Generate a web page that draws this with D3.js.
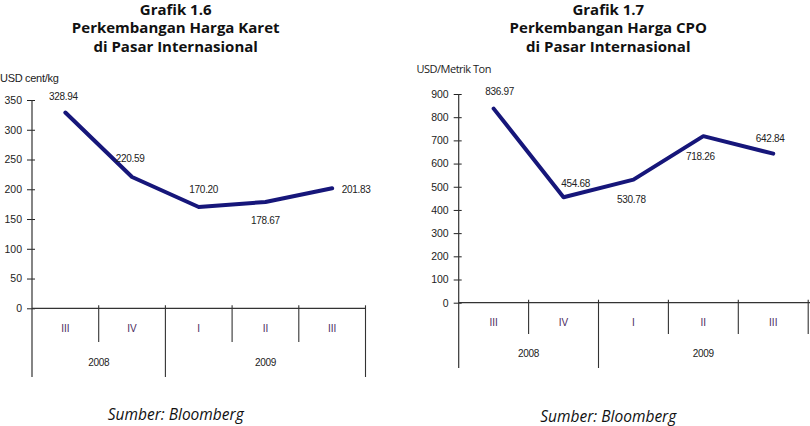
<!DOCTYPE html>
<html><head><meta charset="utf-8">
<script src="https://cdn.jsdelivr.net/npm/d3@7"></script>
<style>
html,body{margin:0;padding:0;background:#fff;}
svg{display:block;}
</style></head>
<body>
<svg id="c" width="810" height="426"></svg>
<script>
// ---- data ----
const quarters = ["III", "IV", "I", "II", "III"];
const years = [{label: "2008", from: 0, to: 2}, {label: "2009", from: 2, to: 5}];
const rubberValues = [328.94, 220.59, 170.20, 178.67, 201.83];
const cpoValues = [836.97, 454.68, 530.78, 718.26, 642.84];
const rubberTicks = [0, 50, 100, 150, 200, 250, 300, 350];
const cpoTicks = [0, 100, 200, 300, 400, 500, 600, 700, 800, 900];

// ---- layout ----
const panels = [
  {
    titles: ["Grafik 1.6", "Perkembangan Harga Karet", "di Pasar Internasional"],
    unit: "USD cent/kg", unitX: 0, unitY: 78, unitFont: "Liberation Sans", unitSpacing: -0.3,
    values: rubberValues, ticks: rubberTicks, yMax: 350,
    x0: 32, bw: 66.7, yBottom: 308.3, yTop: 100,
    axisEnd: 365.7, longDiv: [0, 2, 5],
    qY: 328, shortBottom: 342, longBottom: 377, yearY: 362,
    cx: 175.7, srcY: 414,
    offsets: [[-2, -16], [-2, -19], [5, -18], [0, 19], [24, 1]]
  },
  {
    titles: ["Grafik 1.7", "Perkembangan Harga CPO", "di Pasar Internasional"],
    unit: "USD/Metrik Ton", unitX: 416.5, unitY: 68, unitFont: "Open Sans", unitSpacing: -0.5,
    values: cpoValues, ticks: cpoTicks, yMax: 900,
    x0: 458.7, bw: 69.9, yBottom: 302.7, yTop: 94,
    axisEnd: 812, longDiv: [0, 2],
    qY: 322, shortBottom: 334, longBottom: 368, yearY: 353,
    cx: 608.3, srcY: 416,
    offsets: [[6, -17], [12, -14], [-2, 20], [-3, 20], [-3, -15]]
  }
];

const svg = d3.select("#c");
const lineColor = "#16167a";

panels.forEach(p => {
  const g = svg.append("g");
  const x = d3.scaleBand().domain(d3.range(quarters.length))
    .range([p.x0, p.x0 + p.bw * quarters.length]).padding(0);
  const y = d3.scaleLinear().domain([0, p.yMax]).range([p.yBottom, p.yTop]);

  // titles
  p.titles.forEach((t, i) => {
    g.append("text").attr("x", p.cx).attr("y", 8.5 + i * 18.7)
      .attr("text-anchor", "middle").attr("dominant-baseline", "central")
      .attr("font-family", "Open Sans, sans-serif").attr("font-weight", "bold")
      .attr("font-size", 15).attr("fill", "#111").text(t);
  });

  // unit
  g.append("text").attr("x", p.unitX).attr("y", p.unitY)
    .attr("dominant-baseline", "central")
    .attr("font-family", p.unitFont + ", sans-serif").attr("font-size", 11)
    .attr("letter-spacing", p.unitSpacing)
    .attr("fill", "#222").text(p.unit);

  // y axis
  const yAxis = d3.axisLeft(y).tickValues(p.ticks).tickSize(5).tickPadding(5)
    .tickFormat(d3.format("d"));
  const ya = g.append("g").attr("transform", `translate(${p.x0},0)`).call(yAxis);
  ya.select(".domain").remove();
  ya.selectAll(".tick line").attr("x1", 3).attr("x2", -5).attr("stroke", "#222");
  ya.selectAll(".tick text").attr("font-family", "Liberation Sans, Arial, sans-serif")
    .attr("font-size", 10.5).attr("fill", "#222");
  g.append("line").attr("x1", p.x0).attr("x2", p.x0)
    .attr("y1", y(p.yMax)).attr("y2", p.longBottom).attr("stroke", "#333").attr("stroke-width", 1.2);

  // x axis baseline
  g.append("line").attr("x1", p.x0).attr("x2", p.axisEnd)
    .attr("y1", y(0)).attr("y2", y(0)).attr("stroke", "#333").attr("stroke-width", 1.2);

  // dividers
  d3.range(1, quarters.length + 1).forEach(i => {
    const xx = p.x0 + p.bw * i;
    const isLong = p.longDiv.includes(i);
    if (xx > 809) return;
    g.append("line").attr("x1", xx).attr("x2", xx)
      .attr("y1", y(0) - 3).attr("y2", isLong ? p.longBottom : p.shortBottom)
      .attr("stroke", "#333").attr("stroke-width", 1.1);
  });

  // quarter labels
  quarters.forEach((q, i) => {
    g.append("text").attr("x", x(i) + x.bandwidth() / 2).attr("y", p.qY)
      .attr("text-anchor", "middle").attr("dominant-baseline", "central")
      .attr("font-family", "Liberation Sans, Arial, sans-serif").attr("font-size", 10)
      .attr("fill", "#4a2a5e").text(q);
  });

  // year labels
  years.forEach(yr => {
    const a = p.x0 + p.bw * yr.from, b = p.x0 + p.bw * yr.to;
    g.append("text").attr("x", (a + b) / 2).attr("y", p.yearY)
      .attr("text-anchor", "middle").attr("dominant-baseline", "central")
      .attr("font-family", "Liberation Sans, Arial, sans-serif").attr("font-size", 10)
      .attr("letter-spacing", -0.3)
      .attr("fill", "#222").text(yr.label);
  });

  // line
  const line = d3.line().x((d, i) => x(i) + x.bandwidth() / 2).y(d => y(d));
  g.append("path").datum(p.values).attr("d", line)
    .attr("fill", "none").attr("stroke", lineColor).attr("stroke-width", 4)
    .attr("stroke-linejoin", "round").attr("stroke-linecap", "round");

  // data labels
  p.values.forEach((v, i) => {
    const [dx, dy] = p.offsets[i];
    g.append("text").attr("x", x(i) + x.bandwidth() / 2 + dx).attr("y", y(v) + dy)
      .attr("text-anchor", "middle").attr("dominant-baseline", "central")
      .attr("font-family", "Liberation Sans, Arial, sans-serif").attr("font-size", 10)
      .attr("letter-spacing", -0.3)
      .attr("fill", "#222").text(v.toFixed(2));
  });

  // source
  g.append("text").attr("x", p.cx).attr("y", p.srcY)
    .attr("text-anchor", "middle").attr("dominant-baseline", "central")
    .attr("font-family", "Open Sans, sans-serif").attr("font-style", "italic")
    .attr("font-size", 15.5).attr("fill", "#111").text("Sumber: Bloomberg");
});
</script>
</body></html>
